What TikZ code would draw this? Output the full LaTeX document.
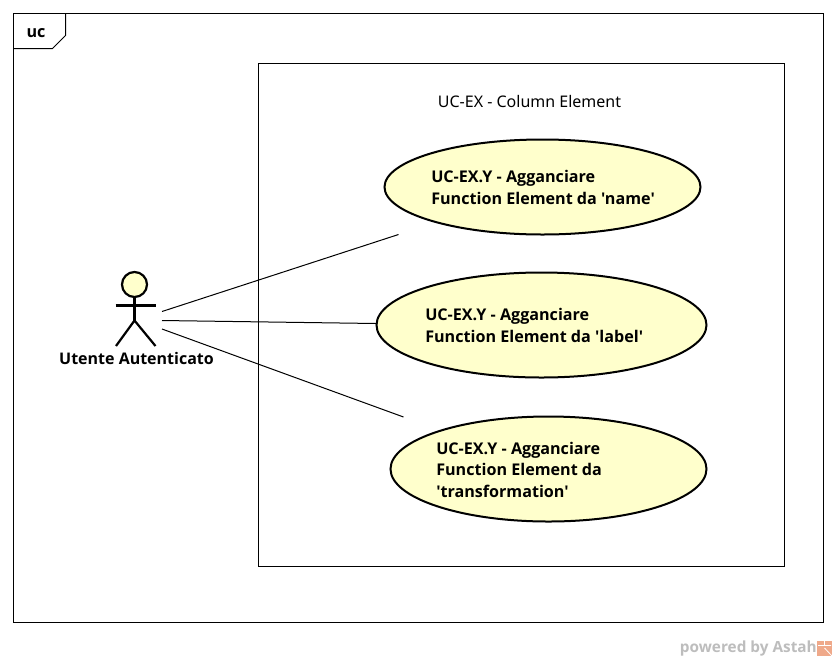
\documentclass[tikz,border=0pt]{standalone}
\usepackage{fontspec}
\newfontfamily\nf{Noto Sans}
\newfontfamily\bfnf{Open Sans}
\definecolor{ucfill}{HTML}{FFFFCC}
\definecolor{wm}{HTML}{BDBDBD}
\definecolor{logo}{HTML}{EFA98A}
\tikzset{
 x=0.75pt,y=-0.75pt,
 frameline/.style={draw=black,line width=0.75pt},
 usecase/.style={draw=black,fill=ucfill,line width=1.5pt},
 uclabel/.style={anchor=west,align=left,font=\bfnf\bfseries\fontsize{12.1}{16.2}\selectfont,inner sep=0pt},
 assoc/.style={draw=black,line width=0.75pt},
 actorline/.style={draw=black,line width=1.65pt},
}
\begin{document}
\begin{tikzpicture}
\useasboundingbox (0,0) rectangle (837,661);
\fill[white] (0,0) rectangle (837,661);
% frame
\draw[frameline] (13.5,13.5) rectangle (823.5,622.5);
\draw[frameline] (13.5,48.5) -- (52.5,48.5) -- (65.5,35.5) -- (65.5,13.5);
\node[font=\bfnf\bfseries\fontsize{12.1}{14}\selectfont,inner sep=0pt] (uc) at (36,33) {uc};
% system
\node[frameline,minimum width=394.5pt,minimum height=377.6pt,inner sep=0pt,outer sep=0pt,anchor=north west] (sys) at (258.5,63) {};
\node[font=\nf\fontsize{12}{14}\selectfont,inner sep=0pt] (systitle) at (529.5,101.5) {UC-EX - Column Element};
% use cases
\filldraw[usecase] (542.5,187) ellipse [x radius=158,y radius=47.5];
\coordinate (e1) at (398.5,234.5);
\node[uclabel] (t1) at (431,187.5) {UC-EX.Y - Agganciare\\Function Element da 'name'};
\filldraw[usecase] (541.5,325) ellipse [x radius=165,y radius=52.5];
\coordinate (e2) at (376,323.5);
\node[uclabel] (t2) at (425,325.5) {UC-EX.Y - Agganciare\\Function Element da 'label'};
\filldraw[usecase] (548.5,469) ellipse [x radius=158,y radius=52.5];
\coordinate (e3) at (403.5,417);
\node[uclabel] (t3) at (436,469.7) {UC-EX.Y - Agganciare\\Function Element da\\'transformation'};
% actor
\filldraw[actorline,fill=ucfill] (134.5,284.5) circle [radius=12.5];
\draw[actorline] (134.5,297) -- (134.5,320.5);
\draw[actorline] (115.5,305.5) -- (155.5,305.5);
\draw[actorline] (116,346) -- (134.5,320.5) -- (155.5,346);
\node[font=\bfnf\bfseries\fontsize{12}{14}\selectfont,inner sep=0pt] (actor) at (136.5,358) {Utente Autenticato};
\coordinate (a1) at (162,311.5);
\coordinate (a2) at (162,320.5);
\coordinate (a3) at (162,329);
% associations
\draw[assoc] (a1) -- (e1);
\draw[assoc] (a2) -- (e2);
\draw[assoc] (a3) -- (e3);
% watermark
\node[font=\bfnf\bfseries\fontsize{11.5}{13}\selectfont,text=wm,inner sep=0pt,anchor=east] (wm) at (817,648.5) {powered by Astah};
\fill[logo] (817,641) rectangle (832,656);
\draw[white,line width=0.6pt] (824.5,641) -- (824.5,645) (818,645.5) -- (831,645.5) (824.5,648) -- (832,656);
\end{tikzpicture}
\end{document}
